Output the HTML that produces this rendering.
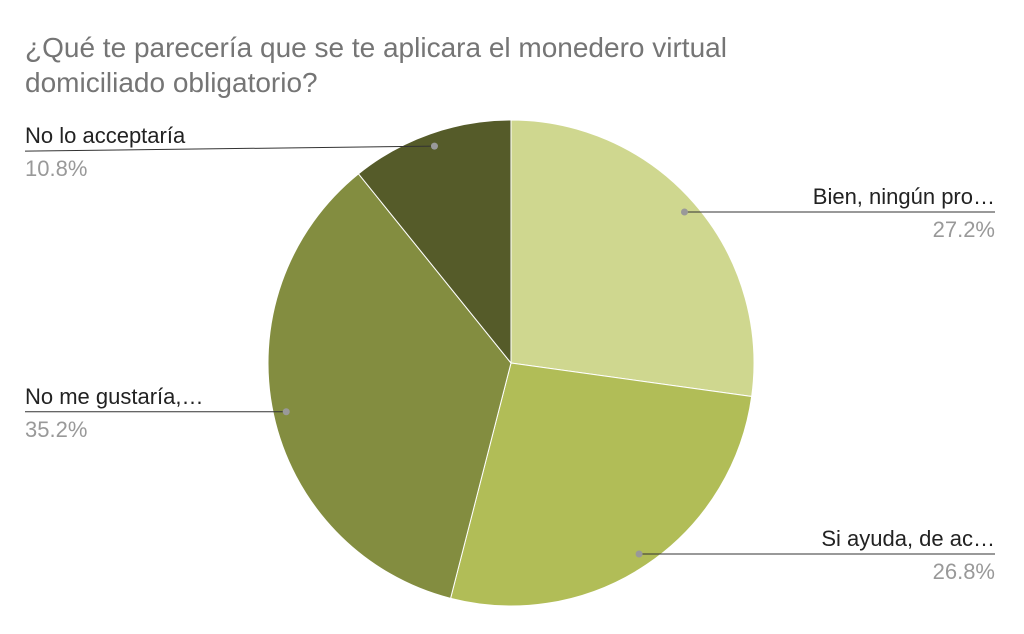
<!DOCTYPE html>
<html><head><meta charset="utf-8"><style>
body{margin:0;background:#fff;}
svg{display:block;font-family:"Liberation Sans",Arial,sans-serif;}
</style></head><body>
<svg width="1024" height="634" viewBox="0 0 1024 634">
<rect width="1024" height="634" fill="#fff"/>
<text x="25" y="57" font-size="28" fill="#757575">¿Qué te parecería que se te aplicara el monedero virtual</text>
<text x="25" y="92" font-size="28" fill="#757575">domiciliado obligatorio?</text>
<g id="slices"></g>
<g id="labels"></g>
</svg>
<script>
const categories=["Bien, ningún pro…","Si ayuda, de ac…","No me gustaría,…","No lo acceptaría"];
const values=[27.2,26.8,35.2,10.8];
const pctLabels=["27.2%","26.8%","35.2%","10.8%"];
const colors=["#cfd78f","#b1bd57","#838d40","#555b29"];
const cx=511,cy=363,R=243,dotR=230;
const NS="http://www.w3.org/2000/svg";
const sg=document.getElementById('slices'),lg=document.getElementById('labels');
const total=values.reduce((a,b)=>a+b,0);
function pt(a,r){return [cx+r*Math.sin(a),cy-r*Math.cos(a)];}
let acc=0;
values.forEach((v,i)=>{
 const a0=acc/total*2*Math.PI;acc+=v;const a1=acc/total*2*Math.PI;
 const p0=pt(a0,R),p1=pt(a1,R);
 const p=document.createElementNS(NS,'path');
 p.setAttribute('d',`M${cx},${cy}L${p0[0]},${p0[1]}A${R},${R} 0 ${a1-a0>Math.PI?1:0} 1 ${p1[0]},${p1[1]}Z`);
 p.setAttribute('fill',colors[i]);p.setAttribute('stroke','#fff');p.setAttribute('stroke-width','1');
 
 
 sg.appendChild(p);
 const am=(a0+a1)/2,d=pt(am,dotR);
 const right=Math.sin(am)>0;
 const lx=right?995:25;
 const ly=d[1]+(i===3?5:0);
 const ln=document.createElementNS(NS,'path');
 ln.setAttribute('d',`M${d[0]},${d[1]}L${lx},${ly}`);
 ln.setAttribute('stroke','#333');ln.setAttribute('fill','none');ln.setAttribute('stroke-width','1');
 
 
 lg.appendChild(ln);
 const c=document.createElementNS(NS,'circle');
 c.setAttribute('cx',d[0]);c.setAttribute('cy',d[1]);c.setAttribute('r','3.5');c.setAttribute('fill','#999');
 
 
 lg.appendChild(c);
 const t=document.createElementNS(NS,'text');
 t.setAttribute('x',lx);t.setAttribute('y',ly-8);t.setAttribute('font-size','22');t.setAttribute('fill','#222');
 t.setAttribute('text-anchor',right?'end':'start');t.textContent=categories[i];
 
 
 lg.appendChild(t);
 const t2=document.createElementNS(NS,'text');
 t2.setAttribute('x',lx);t2.setAttribute('y',ly+25);t2.setAttribute('font-size','22');t2.setAttribute('fill','#999');
 t2.setAttribute('text-anchor',right?'end':'start');t2.textContent=pctLabels[i];
 
 
 lg.appendChild(t2);
});
</script>
</body></html>
